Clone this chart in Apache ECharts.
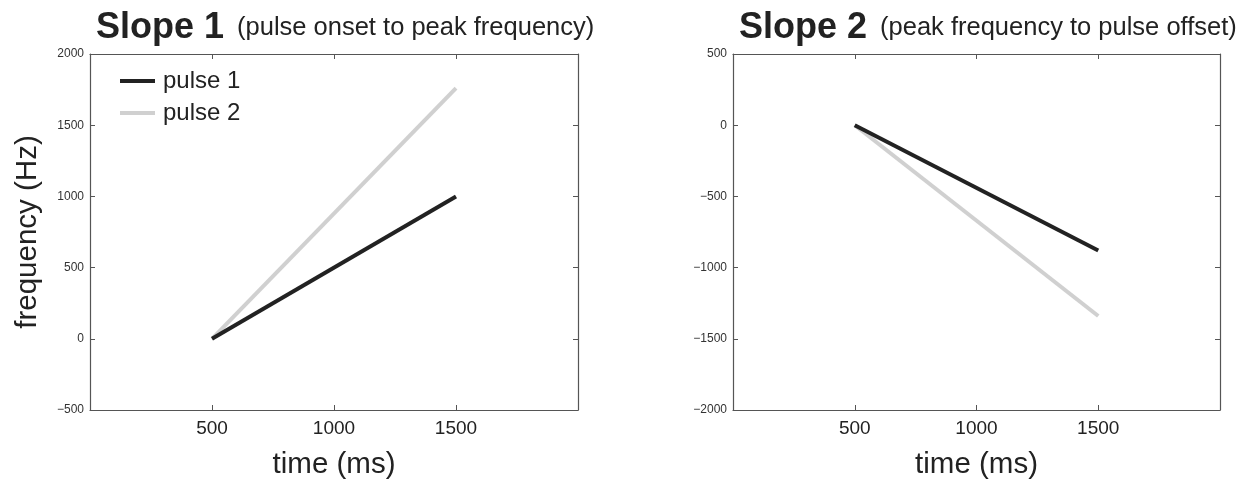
<!DOCTYPE html>
<html><head><meta charset="utf-8">
<script src="https://cdn.jsdelivr.net/npm/echarts@6/dist/echarts.min.js"></script>
<style>html,body{margin:0;padding:0;background:#fff}#c{width:1255px;height:485px}</style>
</head><body><div id="c"></div>
<script>
const time = [500, 1500];
const slope1Pulse1 = [0, 1000];
const slope1Pulse2 = [0, 1760];
const slope2Pulse1 = [0, -880];
const slope2Pulse2 = [0, -1340];
const xTicks = [500, 1000, 1500];
const seriesNames = ['pulse 1', 'pulse 2'];
const titles = [['Slope 1', '(pulse onset to peak frequency)'], ['Slope 2', '(peak frequency to pulse offset)']];

const FONT = 'Liberation Sans, Arial, sans-serif';
const AX = '#555';
const pairs = (ys) => time.map((t, i) => [t, ys[i]]);
const minus = (v) => String(v).replace('-', '\u2212');

function xAxes(gi) {
  return [{
    gridIndex: gi, type: 'value', min: 0, max: 2000, interval: 500, position: 'bottom',
    name: 'time (ms)', nameLocation: 'middle', nameGap: 40,
    nameTextStyle: { fontFamily: FONT, fontSize: 29.5, color: '#222' },
    axisLine: { onZero: false, lineStyle: { color: AX, width: 1.2 } },
    axisTick: { inside: true, length: 5, lineStyle: { color: AX } },
    axisLabel: { fontFamily: FONT, fontSize: 19, color: '#222', margin: 9,
      formatter: v => xTicks.includes(v) ? String(v) : '' },
    splitLine: { show: false }
  }, {
    gridIndex: gi, type: 'value', min: 0, max: 2000, interval: 500, position: 'top',
    axisLine: { onZero: false, lineStyle: { color: AX, width: 1.2 } },
    axisTick: { inside: true, length: 5, lineStyle: { color: AX } },
    axisLabel: { show: false }, splitLine: { show: false }
  }];
}
function yAxes(gi, min, max, name) {
  return [{
    gridIndex: gi, type: 'value', min: min, max: max, interval: 500, position: 'left',
    name: name, nameLocation: 'middle', nameGap: 47,
    nameTextStyle: { fontFamily: FONT, fontSize: 29.5, color: '#222' },
    axisLine: { show: true, onZero: false, lineStyle: { color: AX, width: 1.2 } },
    axisTick: { show: true, inside: true, length: 5, lineStyle: { color: AX } },
    axisLabel: { fontFamily: FONT, fontSize: 12, color: '#333', margin: 6, formatter: minus },
    splitLine: { show: false }
  }, {
    gridIndex: gi, type: 'value', min: min, max: max, interval: 500, position: 'right',
    axisLine: { show: true, onZero: false, lineStyle: { color: AX, width: 1.2 } },
    axisTick: { show: true, inside: true, length: 5, lineStyle: { color: AX } },
    axisLabel: { show: false }, splitLine: { show: false }
  }];
}
function mkTitle(t, left) {
  return {
    left: left, top: 5,
    text: '{b|' + t[0] + '}{n|' + t[1] + '}',
    textStyle: { fontWeight: 'normal', rich: {
      b: { fontFamily: FONT, fontWeight: 'bold', fontSize: 36, color: '#222' },
      n: { fontFamily: FONT, fontWeight: 'normal', fontSize: 25.5, color: '#222', padding: [0, 0, 0, 13] }
    } }
  };
}
const lineSeries = (name, ys, xi, yi, color) => ({
  name: name, type: 'line', xAxisIndex: xi, yAxisIndex: yi, data: pairs(ys),
  symbol: 'none', lineStyle: { color: color, width: 4, cap: 'butt' }, itemStyle: { color: color },
  animation: false
});

const chart = echarts.init(document.getElementById('c'));
chart.setOption({
  backgroundColor: '#fff',
  animation: false,
  title: [mkTitle(titles[0], 91), mkTitle(titles[1], 734)],
  legend: {
    left: 115, top: 64, orient: 'vertical', itemWidth: 35, itemHeight: 4, itemGap: 8, icon: 'rect',
    data: seriesNames,
    textStyle: { fontFamily: FONT, fontSize: 24, color: '#222', padding: [0, 0, 0, 3] }
  },
  grid: [
    { left: 90, right: 677, top: 54, bottom: 74 },
    { left: 733, right: 35, top: 54, bottom: 74 }
  ],
  xAxis: [...xAxes(0), ...xAxes(1)],
  yAxis: [...yAxes(0, -500, 2000, 'frequency (Hz)'), ...yAxes(1, -2000, 500, '')],
  series: [
    lineSeries(seriesNames[1], slope1Pulse2, 0, 0, '#d0d0d0'),
    lineSeries(seriesNames[0], slope1Pulse1, 0, 0, '#222222'),
    lineSeries(seriesNames[1], slope2Pulse2, 2, 2, '#d0d0d0'),
    lineSeries(seriesNames[0], slope2Pulse1, 2, 2, '#222222')
  ]
});
</script></body></html>
